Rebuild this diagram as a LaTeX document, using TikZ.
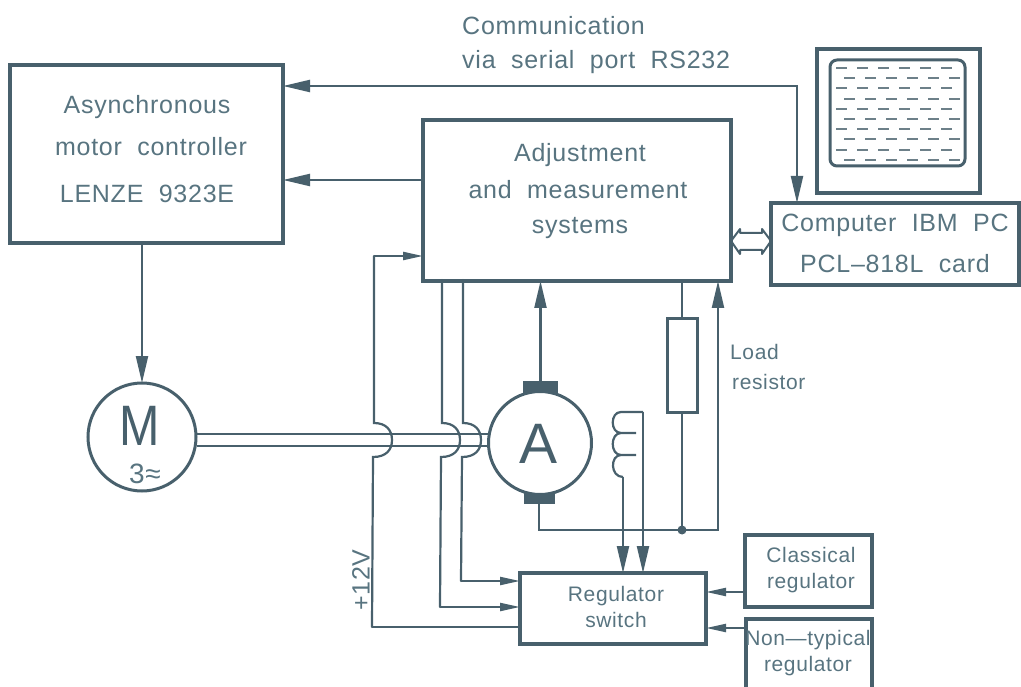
\documentclass[tikz,border=0pt]{standalone}
\usepackage{fontspec}
\setmainfont[LetterSpace=3,WordSpace=2]{Liberation Sans}
\usetikzlibrary{positioning,arrows.meta,calc}
\definecolor{linecolor}{RGB}{72,96,108}
\definecolor{txtcolor}{RGB}{88,116,128}

\begin{document}
\begin{tikzpicture}[
  x=1pt, y=-1pt,
  box/.style    = {rectangle, draw=linecolor, line width=4pt, outer sep=0pt, inner sep=0pt},
  lbl/.style    = {text=txtcolor, inner sep=0pt, font=\fontsize{25}{28}\selectfont},
  smalllbl/.style = {text=txtcolor, inner sep=0pt, font=\fontsize{21}{24}\selectfont},
  machine/.style = {circle, draw=linecolor, line width=3pt, fill=white, inner sep=0pt, outer sep=0pt},
  wire/.style   = {draw=linecolor, line width=2.2pt},
  bigarr/.style = {wire, -{Triangle[length=27pt,width=12pt]}},
  smallarr/.style = {wire, -{Triangle[length=20pt,width=8pt]}},
  brush/.style  = {rectangle, fill=linecolor, inner sep=0pt, outer sep=0pt}
]
\useasboundingbox (0,0) rectangle (1021,687);

\node[box, minimum width=273pt, minimum height=178pt] (ctrl) at (146.5,154) {};
\node[box, minimum width=308pt, minimum height=161pt] (adj) at (577,200.5) {};
\node[box, minimum width=248pt, minimum height=82pt] (pc) at (895,244) {};
\node[box, minimum width=163pt, minimum height=144pt] (mon) at (898.5,121) {};
\node[box, line width=3pt, rounded corners=7pt, minimum width=135pt, minimum height=106pt] (scr) at (897.5,113) {};
\node[box, minimum width=186pt, minimum height=71pt] (regsw) at (613,608.5) {};
\node[box, minimum width=127pt, minimum height=72pt] (classic) at (808.5,571) {};
\node[minimum width=126pt, minimum height=68pt, inner sep=0pt, outer sep=0pt] (nontyp) at (809,653) {};
\draw[linecolor, line width=4pt] (nontyp.south west) -- (nontyp.north west)
  -- (nontyp.north east) -- (nontyp.south east);
\node[box, line width=3pt, minimum width=30pt, minimum height=93pt] (res) at (682,365.5) {};

\node[machine, minimum size=108pt] (mot) at (142,437) {};
\node[brush, minimum width=35pt, minimum height=13pt] (brtop) at (540.5,387) {};
\node[brush, minimum width=31pt, minimum height=12pt] (brbot) at (539,498) {};
\node[machine, minimum size=103pt] (gen) at (540,443) {};

% screen dashes
\foreach \r in {0,...,9}{
  \pgfmathsetmacro{\yy}{68+\r*10.2}
  \pgfmathsetmacro{\xo}{mod(\r,2)==0 ? 836 : 844}
  \foreach \c in {0,...,5}{
    \draw[linecolor!80, line width=2pt] ({\xo+\c*21},\yy) -- ++(11,0);
  }
}

% shaft
\coordinate (sha) at (197,434);
\coordinate (shb) at (197,446);
\draw[wire] (sha) -- (sha -| gen.west);
\draw[wire] (shb) -- (shb -| gen.west);

% wires
\draw[bigarr, {Triangle[length=27pt,width=12pt]}-{Triangle[length=27pt,width=12pt]}]
  (ctrl.east |- 0,86) -| (pc.north -| 797,0);
\draw[bigarr] (adj.west |- 0,180) -- (ctrl.east |- 0,180);
\draw[bigarr] (ctrl.south -| mot.north) -- (mot.north);
\draw[bigarr] (brtop.north) -- (adj.south -| brtop.north);
\draw[wire] (adj.south -| res.north) -- (res.north);
\draw[wire] (res.south) -- (res.south |- 0,530);
\draw[wire] (brbot.south) |- (res.south |- 0,530) coordinate (jn);
\draw[bigarr] (jn) -| (adj.south -| 718,0);
\fill[linecolor] (jn) circle (4.5pt);

% wires over the shaft
\foreach \hx/\ya/\yb/\nm in {374/256/627/sup, 442/280/607/wa, 463/280/581/wb}{
  \coordinate (\nm a) at (\hx,\ya);
  \draw[wire, line cap=round] (\nm a) -- (\hx,423)
    .. controls (\hx+12,423) and (\hx+18,430) .. (\hx+18,440)
    .. controls (\hx+18,450) and (\hx+12,457) .. (\hx-1,457)
    -- (\hx-2,\yb) coordinate (\nm b);
}
\draw[smallarr] (supa) -- (adj.west |- supa);
\draw[wire] (supb) -- (regsw.west |- supb);
\draw[smallarr] (wab) -- (regsw.west |- wab);
\draw[smallarr] (wbb) -- (regsw.west |- wbb);
\draw[smallarr] (classic.west |- 0,592) -- (regsw.east |- 0,592);
\draw[smallarr] (nontyp.west |- 0,628) -- (regsw.east |- 0,628);

% field coil
\coordinate (cta) at (643,412);
\coordinate (ctb) at (623,477);
\draw[wire] (cta) -- (621,412)
  .. controls (610,412) and (610,433) .. (621,433) -- (636,433) -- (621,433)
  .. controls (610,433) and (610,455) .. (621,455) -- (636,455) -- (621,455)
  .. controls (610,455) and (610,477) .. (ctb);
\draw[bigarr] (ctb) -- (regsw.north -| ctb);
\draw[bigarr] (cta) -- (regsw.north -| cta);

% double arrow to the computer
\draw[linecolor, line width=2pt, line join=round] (adj.east |- 0,241) -- ++(9,-12) -- ++(0,4) -- ++(22,0) -- ++(0,-4)
  -- (pc.west |- 0,241) -- ++(-9,13) -- ++(0,-4) -- ++(-22,0) -- ++(0,4) -- cycle;

% labels
\node[lbl, anchor=west] (tcoma) at (462,26) {Communication};
\node[lbl, anchor=west] (tcomb) at (462,62) {via serial port RS232};
\node[lbl] (tca) at (147,107) {Asynchronous};
\node[lbl] (tcb) at (151,147) {motor controller};
\node[lbl] (tcc) at (147,194) {LENZE 9323E};
\node[lbl] (taa) at (580,155) {Adjustment};
\node[lbl] (tab) at (578,190) {and measurement};
\node[lbl] (tac) at (580,228) {systems};
\node[lbl] (tpa) at (895,225) {Computer IBM PC};
\node[lbl] (tpb) at (895,264) {PCL--818L card};
\node[smalllbl] (tra) at (616,596) {Regulator};
\node[smalllbl] (trb) at (616,620) {switch};
\node[smalllbl] (tka) at (811,555) {Classical};
\node[smalllbl] (tkb) at (811,583) {regulator};
\node[smalllbl] (tna) at (808,640) {Non---typical};
\node[smalllbl] (tnb) at (808,666) {regulator};
\node[smalllbl, anchor=west] (tla) at (730,352) {Load};
\node[smalllbl, anchor=west] (tlb) at (732,382) {resistor};
\node[lbl, rotate=90] (tv) at (361,580) {+12V};
\node[text=linecolor, inner sep=0pt, xscale=0.85, font=\fontsize{57}{60}\selectfont] (tm) at (140,426) {M};
\node[text=txtcolor, inner sep=0pt, font=\fontsize{28}{30}\selectfont] (tm3) at (145,474) {3≈};
\node[text=linecolor, inner sep=0pt, font=\fontsize{57}{60}\selectfont] (tg) at (539,444) {A};
\end{tikzpicture}
\end{document}
